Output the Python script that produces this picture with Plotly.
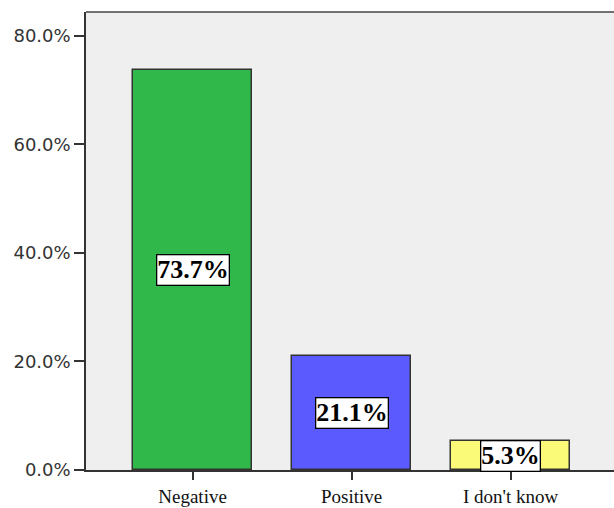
import plotly.graph_objects as go

categories = ["Negative", "Positive", "I don't know"]
percent_values = [73.7, 21.1, 5.3]
bar_colors = ["#30B84A", "#5A5AFF", "#FAFA78"]
tick_vals = [0, 20, 40, 60, 80]
tick_text = ["0.0%", "20.0%", "40.0%", "60.0%", "80.0%"]

x_pos = list(range(len(categories)))

fig = go.Figure()
fig.add_trace(go.Bar(
    x=x_pos, y=percent_values, width=0.75,
    marker=dict(color=bar_colors, line=dict(color="#333333", width=1.5)),
    hoverinfo="skip",
))

for xi, v in zip(x_pos, percent_values):
    fig.add_annotation(
        x=xi, y=v / 2, text=f"<b>{v:.1f}%</b>", showarrow=False,
        font=dict(family="Liberation Serif", size=26, color="black"),
        bgcolor="white", bordercolor="black", borderwidth=1.3, borderpad=0,
        xref="x", yref="y",
    )

fig.add_shape(type="line", xref="paper", yref="paper", x0=0, x1=1, y0=1, y1=1,
              line=dict(color="#444444", width=1.5))

fig.update_layout(
    width=614, height=508,
    margin=dict(l=86, r=0, t=12, b=38),
    plot_bgcolor="#EFEFEF", paper_bgcolor="white",
    showlegend=False,
    bargap=0,
)
fig.update_xaxes(
    range=[-0.67, 2.65], tickmode="array", tickvals=x_pos, ticktext=categories,
    showline=True, linecolor="#333333", linewidth=1.5,
    ticks="outside", ticklen=8, tickwidth=1.5, tickcolor="#333333",
    tickfont=dict(family="Liberation Serif", size=19, color="#111111"),
    showgrid=False, zeroline=False, automargin=False,
)
fig.update_yaxes(
    range=[0, 84.4], tickmode="array", tickvals=tick_vals, ticktext=tick_text,
    showline=True, linecolor="#333333", linewidth=1.5,
    ticks="outside", ticklen=10, tickwidth=1.5, tickcolor="#333333",
    tickfont=dict(family="DejaVu Sans", size=18, color="#333333"),
    showgrid=False, zeroline=False, automargin=False,
)

fig.write_html("out.html")
